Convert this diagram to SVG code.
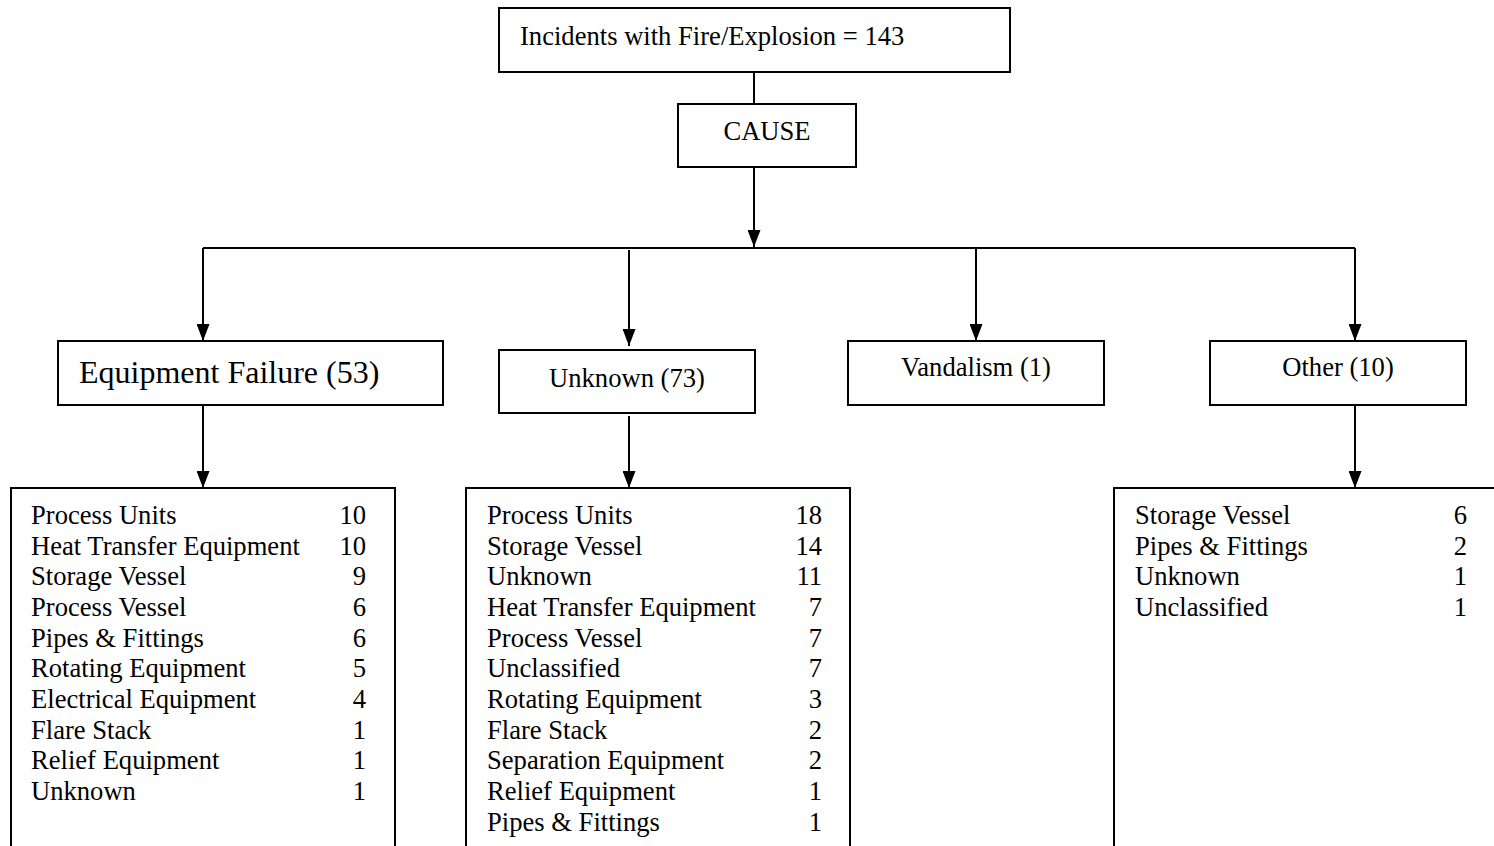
<svg xmlns="http://www.w3.org/2000/svg" width="1494" height="846" viewBox="0 0 1494 846">
<style>
.box{fill:#fff;stroke:#000;stroke-width:2}
.t{font-family:"Liberation Serif","Times New Roman",serif;font-size:26.6px;fill:#000}
.c{text-anchor:middle}
.r{text-anchor:end}
.ln{fill:none;stroke:#000;stroke-width:2}
</style>
<defs>
<marker id="a" markerUnits="userSpaceOnUse" markerWidth="17" markerHeight="13" viewBox="0 0 17 13" refX="17" refY="6.5" orient="auto">
<path d="M0,0 L17,6.5 L0,13 Z" fill="#000"/>
</marker>
</defs>
<g id="connectors">
<line class="ln" x1="754" y1="72" x2="754" y2="104"/>
<line class="ln" x1="754" y1="167" x2="754" y2="247" marker-end="url(#a)"/>
<line class="ln" x1="203" y1="248" x2="1355" y2="248"/>
<line class="ln" x1="203" y1="248" x2="203" y2="341" marker-end="url(#a)"/>
<line class="ln" x1="629" y1="250" x2="629" y2="346" marker-end="url(#a)"/>
<line class="ln" x1="976" y1="248" x2="976" y2="341" marker-end="url(#a)"/>
<line class="ln" x1="1355" y1="248" x2="1355" y2="341" marker-end="url(#a)"/>
<line class="ln" x1="203" y1="403" x2="203" y2="488" marker-end="url(#a)"/>
<line class="ln" x1="629" y1="416" x2="629" y2="488" marker-end="url(#a)"/>
<line class="ln" x1="1355" y1="405" x2="1355" y2="488" marker-end="url(#a)"/>
</g>
<g id="top">
<rect class="box" x="499" y="8" width="511" height="64"/>
<text class="t" x="520" y="45">Incidents with Fire/Explosion = 143</text>
</g>
<g id="cause">
<rect class="box" x="678" y="104" width="178" height="63"/>
<text class="t c" x="767" y="140">CAUSE</text>
</g>
<g id="equipment-failure">
<rect class="box" x="58" y="341" width="385" height="64"/>
<text class="t" x="79" y="383" style="font-size:32px">Equipment Failure (53)</text>
</g>
<g id="unknown">
<rect class="box" x="499" y="350" width="256" height="63"/>
<text class="t c" x="627" y="387">Unknown (73)</text>
</g>
<g id="vandalism">
<rect class="box" x="848" y="341" width="256" height="64"/>
<text class="t c" x="976" y="376">Vandalism (1)</text>
</g>
<g id="other">
<rect class="box" x="1210" y="341" width="256" height="64"/>
<text class="t c" x="1338" y="376">Other (10)</text>
</g>
<g id="ef-list">
<rect class="box" x="11" y="488" width="384" height="370"/>
<text class="t" x="31" y="524">Process Units</text><text class="t r" x="366" y="524">10</text>
<text class="t" x="31" y="555">Heat Transfer Equipment</text><text class="t r" x="366" y="555">10</text>
<text class="t" x="31" y="585">Storage Vessel</text><text class="t r" x="366" y="585">9</text>
<text class="t" x="31" y="616">Process Vessel</text><text class="t r" x="366" y="616">6</text>
<text class="t" x="31" y="647">Pipes &amp; Fittings</text><text class="t r" x="366" y="647">6</text>
<text class="t" x="31" y="677">Rotating Equipment</text><text class="t r" x="366" y="677">5</text>
<text class="t" x="31" y="708">Electrical Equipment</text><text class="t r" x="366" y="708">4</text>
<text class="t" x="31" y="739">Flare Stack</text><text class="t r" x="366" y="739">1</text>
<text class="t" x="31" y="769">Relief Equipment</text><text class="t r" x="366" y="769">1</text>
<text class="t" x="31" y="800">Unknown</text><text class="t r" x="366" y="800">1</text>
</g>
<g id="unknown-list">
<rect class="box" x="466" y="488" width="384" height="370"/>
<text class="t" x="487" y="524">Process Units</text><text class="t r" x="822" y="524">18</text>
<text class="t" x="487" y="555">Storage Vessel</text><text class="t r" x="822" y="555">14</text>
<text class="t" x="487" y="585">Unknown</text><text class="t r" x="822" y="585">11</text>
<text class="t" x="487" y="616">Heat Transfer Equipment</text><text class="t r" x="822" y="616">7</text>
<text class="t" x="487" y="647">Process Vessel</text><text class="t r" x="822" y="647">7</text>
<text class="t" x="487" y="677">Unclassified</text><text class="t r" x="822" y="677">7</text>
<text class="t" x="487" y="708">Rotating Equipment</text><text class="t r" x="822" y="708">3</text>
<text class="t" x="487" y="739">Flare Stack</text><text class="t r" x="822" y="739">2</text>
<text class="t" x="487" y="769">Separation Equipment</text><text class="t r" x="822" y="769">2</text>
<text class="t" x="487" y="800">Relief Equipment</text><text class="t r" x="822" y="800">1</text>
<text class="t" x="487" y="831">Pipes &amp; Fittings</text><text class="t r" x="822" y="831">1</text>
</g>
<g id="other-list">
<rect class="box" x="1114" y="488" width="400" height="370"/>
<text class="t" x="1135" y="524">Storage Vessel</text><text class="t r" x="1467" y="524">6</text>
<text class="t" x="1135" y="555">Pipes &amp; Fittings</text><text class="t r" x="1467" y="555">2</text>
<text class="t" x="1135" y="585">Unknown</text><text class="t r" x="1467" y="585">1</text>
<text class="t" x="1135" y="616">Unclassified</text><text class="t r" x="1467" y="616">1</text>
</g>
</svg>
